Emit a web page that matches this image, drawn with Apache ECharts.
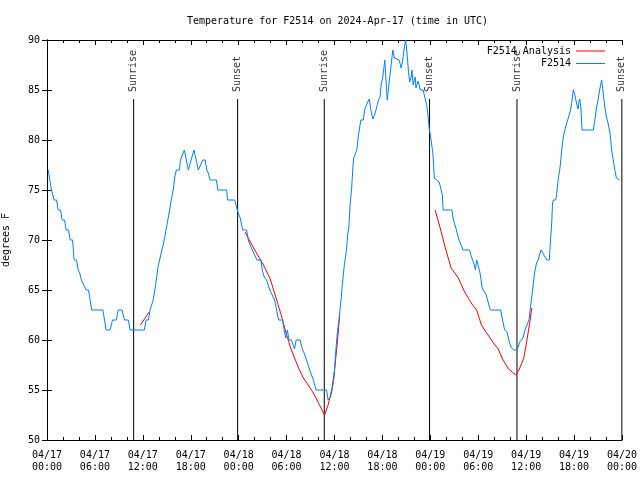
<!DOCTYPE html>
<html>
<head>
<meta charset="utf-8">
<script src="https://cdn.jsdelivr.net/npm/echarts@6/dist/echarts.min.js"></script>
<style>html,body{margin:0;padding:0;background:#fff}#c{width:640px;height:480px}</style>
</head>
<body>
<div id="c"></div>
<script>
// time in hours since 2024-04-17 00:00 UTC, temperature in degrees F
const f2514 = [
[0.16,77],[0.35,76],[0.56,75],[0.9,74],[1.2,74],[1.4,73],[1.7,73],[1.9,72],[2.2,72],[2.4,71],[2.7,71],[2.9,70],[3.2,70],[3.4,68],[3.7,68],[3.9,67],[4.1,66.7],[4.3,66],[4.6,65.5],[4.9,65],[5.2,65],[5.6,63],[7.0,63],[7.4,61],[7.9,61],[8.2,62],[8.7,62],[8.9,63],[9.4,63],[9.7,62],[10.2,62],[10.4,61],[12.2,61],[12.4,62],[12.7,62],[12.9,63],[13.3,64],[13.6,65.5],[13.9,67.3],[14.3,68.7],[14.6,69.7],[14.9,71],[15.2,72.3],[15.5,73.7],[15.8,75],[16.0,76.3],[16.2,77],[16.6,77],[16.7,78],[16.9,78],[17.2,79],[17.7,77],[17.9,77],[18.4,79],[18.95,77],[19.15,77],[19.5,78],[19.8,78],[20.0,77],[20.2,76.7],[20.4,76],[21.2,76],[21.4,75],[22.5,75],[22.6,74],[23.5,74],[23.9,72.8],[24.2,72.2],[24.5,71],[25.0,71],[25.2,70],[25.7,69],[26.3,68],[26.8,68],[26.95,67],[27.2,66.3],[27.5,66],[27.9,65],[28.5,64],[29.0,62],[29.5,62],[29.7,61],[29.9,60.2],[30.1,61],[30.3,60],[30.6,60],[31.0,59.1],[31.2,60],[31.7,60],[32.0,59],[32.2,58.7],[32.5,58],[32.9,57],[33.35,56],[33.7,55],[35.0,55],[35.2,54],[35.5,54.3],[35.7,55],[35.95,56.3],[36.1,58.3],[36.35,60.7],[36.6,62.3],[36.85,64.3],[37.0,65.7],[37.2,67.3],[37.5,69],[37.65,70.5],[37.8,71.3],[37.95,73.5],[38.15,75.2],[38.3,77.2],[38.4,78.2],[38.8,79],[39.0,80.5],[39.3,82],[39.6,82],[39.8,83.1],[40.1,83.7],[40.35,84.1],[40.6,82.8],[40.8,82.1],[41.1,82.7],[41.5,84],[41.7,84.3],[41.85,85.6],[42.05,86.3],[42.3,88],[42.6,84],[42.8,84],[43.05,87.2],[43.3,89],[43.5,88.2],[43.6,88],[44.1,88],[44.35,87.2],[44.5,87.8],[44.7,89],[44.9,90],[45.05,89],[45.25,87],[45.4,85.8],[45.6,86.3],[45.7,87],[45.85,85.5],[46.0,86],[46.1,86.3],[46.2,85.2],[46.45,85.9],[46.6,85.5],[46.75,85],[47.1,85],[47.3,84.3],[47.55,83.5],[47.7,82.5],[47.85,81.2],[48.0,80.5],[48.3,78.8],[48.4,77.7],[48.5,76.2],[48.8,76],[49.1,75.8],[49.3,75.2],[49.5,74.5],[49.6,73],[50.7,73],[50.9,72],[51.2,71.2],[51.5,70.2],[51.7,70],[52.1,69],[52.9,69],[53.2,68.2],[53.5,67.5],[53.65,67],[53.8,68],[54.0,68],[54.2,66.8],[54.5,65.2],[54.7,65],[55.0,64.5],[55.5,63],[56.8,63],[57.1,61.8],[57.3,61],[57.6,60.8],[57.9,59.8],[58.1,59.3],[58.4,59],[58.8,59],[59.0,59.3],[59.2,59.8],[59.4,60],[59.6,60.2],[59.85,61],[60.2,61.7],[60.35,62],[60.6,62],[60.85,65.3],[61.05,66.7],[61.3,67.7],[61.5,68],[61.85,69],[62.1,68.7],[62.35,68.3],[62.6,68],[62.9,68],[63.05,70],[63.2,71.7],[63.3,73.7],[63.4,74],[63.7,74],[63.85,74.8],[64.0,76],[64.25,77.3],[64.45,79],[64.65,80.3],[64.9,81.2],[65.2,82],[65.5,82.8],[65.7,83.7],[65.9,85],[66.1,84.5],[66.3,83.7],[66.5,83.1],[66.6,83.8],[66.7,84.1],[66.85,83.3],[67.0,81],[68.4,81],[68.6,82],[68.8,83.2],[69.0,84],[69.2,85],[69.45,86],[69.65,84.7],[69.85,83.3],[70.05,82.3],[70.25,81.7],[70.5,80.7],[70.7,79],[70.9,78],[71.1,77],[71.3,76.2],[71.4,76],[71.7,76]
];
const analysisA = [[11.7,61.5],[12.2,62.1],[12.8,62.8]];
const analysisB = [[24.8,70.8],[25.8,69.3],[27.1,67.5],[27.9,66.2],[28.5,64.7],[29.4,62.3],[30.0,60.5],[30.6,59],[31.5,57.2],[32.1,56.2],[32.7,55.5],[33.35,54.7],[34.0,53.7],[34.75,52.5],[35.2,53.5],[35.7,55.2],[36.05,57.3],[36.35,59.7],[36.65,62.5]];
const analysisC = [[48.6,73],[49.2,71.3],[49.85,69.3],[50.6,67.2],[51.5,66.2],[52.3,64.8],[53.2,63.6],[53.8,63],[54.4,61.5],[55.05,60.7],[55.9,59.7],[56.5,59.1],[57.1,58],[57.8,57.1],[58.7,56.5],[59.1,57],[59.7,58.2],[60.1,60],[60.5,62],[60.7,63.2]];
const sunTimes = [10.85, 23.87, 34.72, 47.9, 58.85, 71.98];
const sunLabels = ['Sunrise','Sunset','Sunrise','Sunset','Sunrise','Sunset'];
const sunLineTop = 84.1;
const sunLabelBase = 84.8;
const xTickLabels = ['04/17\n00:00','04/17\n06:00','04/17\n12:00','04/17\n18:00','04/18\n00:00','04/18\n06:00','04/18\n12:00','04/18\n18:00','04/19\n00:00','04/19\n06:00','04/19\n12:00','04/19\n18:00','04/20\n00:00'];

const FONT = 'DejaVu Sans Mono';
const chart = echarts.init(document.getElementById('c'), null, {renderer:'canvas'});

const sunSeries = sunTimes.map((t,i) => ({
  type:'line', silent:true, symbol:'none', animation:false, legendHoverLink:false,
  data:[[t,50],[t,sunLineTop]], lineStyle:{color:'#000', width:1}, z:1
}));
const sunLabelSeries = {
  type:'scatter', silent:true, symbolSize:0, animation:false,
  data: sunTimes.map((t,i)=>({value:[t,sunLabelBase], name:sunLabels[i]})),
  label:{show:true, position:'inside', rotate:90, align:'left', verticalAlign:'middle',
    formatter:p=>p.name, fontFamily:FONT, fontSize:10, color:'#000'}
};
const anaStyle = {type:'line', name:'F2514 Analysis', symbol:'none', showSymbol:false, animation:false,
  lineStyle:{color:'#ff0000', width:1}, itemStyle:{color:'#ff0000'}, z:2};

const axisCommon = {axisLine:{show:true, lineStyle:{color:'#000', width:1}}, splitLine:{show:false}};
const legendCommon = {right:30, align:'right', itemWidth:29, itemHeight:1, icon:'rect', itemGap:0,
  textStyle:{fontFamily:FONT, fontSize:10, color:'#000'}, selectedMode:false};

chart.setOption({
  animation:false,
  backgroundColor:'#fff',
  title:{text:'Temperature for F2514 on 2024-Apr-17 (time in UTC)', left:182, top:11,
    textStyle:{fontFamily:FONT, fontSize:10, fontWeight:'normal', color:'#000'}},
  legend:[
    Object.assign({data:['F2514 Analysis'], top:41}, legendCommon),
    Object.assign({data:['F2514'], top:53.5}, legendCommon)
  ],
  grid:{left:47, right:18, top:40, bottom:40, containLabel:false, outerBoundsMode:'none'},
  xAxis:[
    Object.assign({type:'value', min:0, max:72, interval:6, position:'bottom',
      axisTick:{show:true, inside:true, length:5, lineStyle:{color:'#000'}},
      minorTick:{show:true, splitNumber:3, length:3, lineStyle:{color:'#000'}},
      minorSplitLine:{show:false},
      axisLabel:{fontFamily:FONT, fontSize:10, color:'#000', margin:9, lineHeight:12.5,
        formatter:v=>xTickLabels[Math.round(v/6)]}}, axisCommon),
    Object.assign({type:'value', min:0, max:72, interval:6, position:'top',
      axisTick:{show:true, inside:true, length:5, lineStyle:{color:'#000'}},
      minorTick:{show:true, splitNumber:3, length:3, lineStyle:{color:'#000'}},
      axisLabel:{show:false}}, axisCommon)
  ],
  yAxis:[
    Object.assign({type:'value', min:50, max:90, interval:5, position:'left',
      name:'degrees F', nameLocation:'middle', nameGap:36, nameRotate:90,
      nameTextStyle:{fontFamily:FONT, fontSize:10, color:'#000'},
      axisTick:{show:true, inside:true, length:5, lineStyle:{color:'#000'}},
      axisLabel:{fontFamily:FONT, fontSize:10, color:'#000', margin:7}}, axisCommon),
    Object.assign({type:'value', min:50, max:90, interval:5, position:'right',
      axisTick:{show:true, inside:true, length:5, lineStyle:{color:'#000'}},
      axisLabel:{show:false}}, axisCommon)
  ],
  series:[
    ...sunSeries,
    sunLabelSeries,
    Object.assign({data:analysisA}, anaStyle),
    Object.assign({data:analysisB}, anaStyle),
    Object.assign({data:analysisC}, anaStyle),
    {type:'line', name:'F2514', data:f2514, symbol:'none', showSymbol:false, animation:false,
      lineStyle:{color:'#0080ff', width:1}, itemStyle:{color:'#0080ff'}, z:3}
  ]
});
</script>
</body>
</html>
